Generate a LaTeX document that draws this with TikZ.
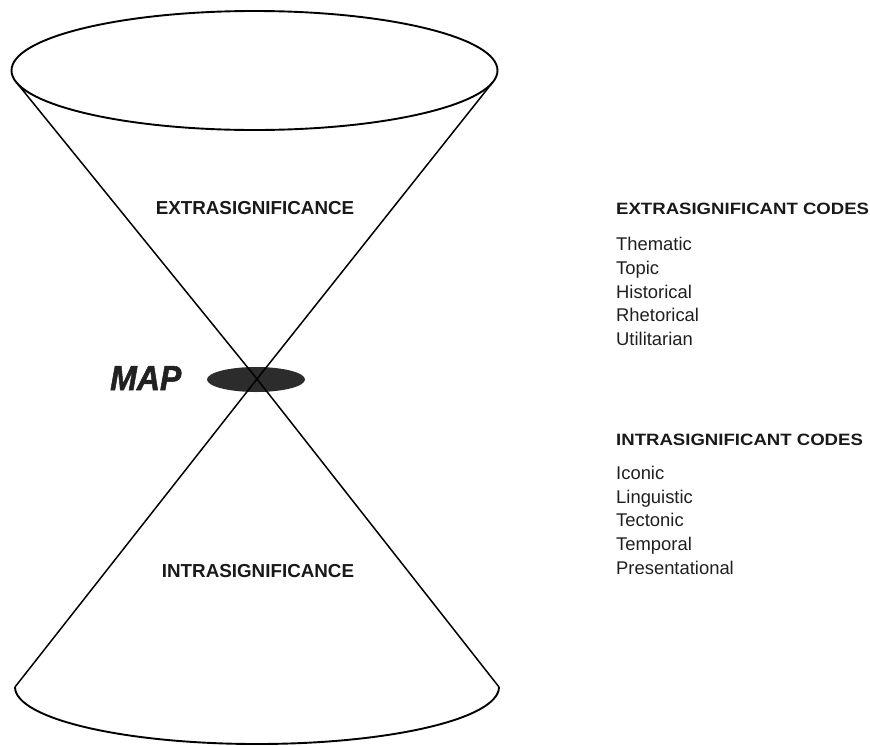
\documentclass[tikz,border=0pt]{standalone}
\usepackage{fontspec}
\setmainfont{Liberation Sans}
\newfontfamily\mapfont[BoldItalicFeatures={FakeBold=1.6}]{Liberation Sans}
\definecolor{mapgray}{HTML}{222222}
\definecolor{mapfill}{HTML}{2C2C2C}
\begin{document}
\begin{tikzpicture}[x=1pt,y=-1pt,
  outline/.style={line width=1.9pt, black},
  coneline/.style={line width=1.5pt, black},
  biglabel/.style={font=\fontsize{18.8}{20}\selectfont\bfseries, text=black!90, inner sep=0pt, anchor=base},
  codehead/.style={font=\fontsize{16.4}{18}\selectfont\bfseries, text=black!90, inner sep=0pt, anchor=base west},
  codeitem/.style={font=\fontsize{18.4}{20}\selectfont, text=black!88, inner sep=0pt, anchor=base west},
  maplabel/.style={font=\mapfont\fontsize{34.8}{36}\selectfont\bfseries\itshape, text=mapgray, inner sep=0pt, anchor=base west},
]
\useasboundingbox (0,0) rectangle (870,745);
% key points
\coordinate (apex) at (257,379);
\coordinate (tl) at (16.1,82);
\coordinate (tr) at (492.9,82);
\coordinate (bl) at (15,687);
\coordinate (br) at (499,687);
% top ellipse
\draw[outline] (254.5,70.5) ellipse [x radius=243, y radius=59.5];
% map ellipse
\fill[mapfill] (256,379.5) ellipse [x radius=49, y radius=12.5];
% cone lines
\draw[coneline] (tl) -- (apex) -- (br);
\draw[coneline] (tr) -- (apex) -- (bl);
% bottom arc
\draw[outline] (bl) arc[start angle=180, end angle=0, x radius=242, y radius=57];
% labels
\node[biglabel] (extra) at (255,214.3) {EXTRASIGNIFICANCE};
\node[biglabel] (intra) at (258,577) {INTRASIGNIFICANCE};
\node[maplabel] (map) at (110,390) {\scalebox{0.92}[1]{MAP}};
% extrasignificant codes
\node[codehead] (exhead) at (616,214) {\scalebox{1.133}[1]{EXTRASIGNIFICANT CODES}};
\node[codeitem] (ex1) at (616,250.7) {Thematic};
\node[codeitem] (ex2) at (616,274.35) {Topic};
\node[codeitem] (ex3) at (616,298.0) {Historical};
\node[codeitem] (ex4) at (616,321.65) {Rhetorical};
\node[codeitem] (ex5) at (616,345.3) {Utilitarian};
% intrasignificant codes
\node[codehead] (inhead) at (616,445) {\scalebox{1.133}[1]{INTRASIGNIFICANT CODES}};
\node[codeitem] (in1) at (616,479.3) {Iconic};
\node[codeitem] (in2) at (616,503.1) {Linguistic};
\node[codeitem] (in3) at (616,526.9) {Tectonic};
\node[codeitem] (in4) at (616,550.7) {Temporal};
\node[codeitem] (in5) at (616,574.5) {Presentational};
\end{tikzpicture}
\end{document}
